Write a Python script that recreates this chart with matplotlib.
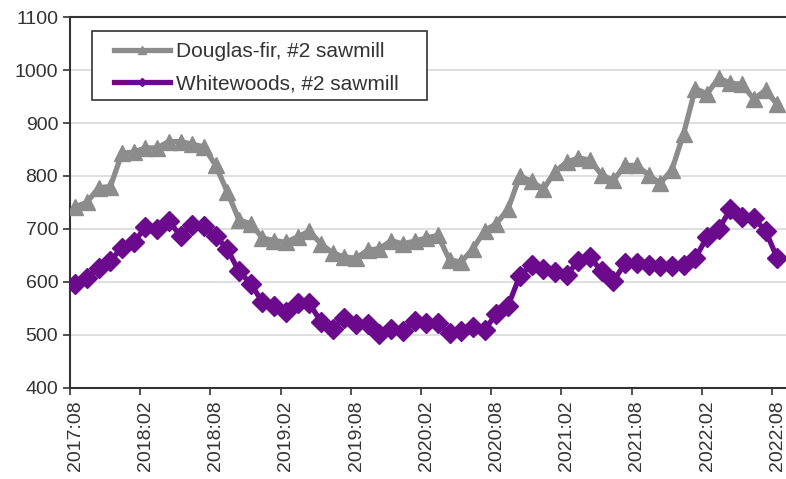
import matplotlib
matplotlib.use("Agg")
import matplotlib.pyplot as plt
from matplotlib.patches import Rectangle
import numpy as np

plt.rcParams['font.family'] = ['Liberation Sans', 'DejaVu Sans']

# monthly prices, Aug 2017 .. Aug 2022
douglas_fir = [742, 750, 778, 780, 843, 845, 853, 853, 865, 865,
               860, 855, 820, 770, 717, 710, 683, 678, 675, 685,
               696, 672, 655, 647, 645, 660, 663, 678, 672, 677,
               683, 688, 641, 638, 663, 697, 710, 738, 800, 790,
               775, 808, 826, 834, 830, 802, 792, 820, 820, 802,
               786, 812, 880, 965, 955, 985, 975, 973, 945, 962,
               935]
whitewoods = [597, 608, 627, 640, 665, 675, 703, 700, 715, 687,
              708, 705, 687, 662, 620, 597, 562, 555, 543, 560,
              560, 525, 512, 532, 520, 520, 502, 512, 507, 527,
              522, 522, 503, 508, 515, 510, 540, 555, 612, 632,
              625, 618, 613, 640, 647, 620, 602, 635, 635, 633,
              630, 630, 632, 645, 685, 700, 737, 722, 720, 697,
              645]
tick_labels = ['2017:08', '2018:02', '2018:08', '2019:02', '2019:08', '2020:02',
               '2020:08', '2021:02', '2021:08', '2022:02', '2022:08']

months = np.arange(len(douglas_fir)) + 0.45
text_col = '#333333'

fig = plt.figure(figsize=(7.86, 4.79), dpi=100)
ax = fig.add_axes([0.089, 0.19, 0.911, 0.7745])

ax.plot(months, douglas_fir, color='#8c8c8c', lw=3.8, marker='^', ms=12,
        label='Douglas-fir, #2 sawmill', zorder=3)
ax.plot(months, whitewoods, color='#6b0a8c', lw=3.8, marker='D', ms=10,
        label='Whitewoods, #2 sawmill', zorder=3)

ax.set_ylim(400, 1100)
ax.set_yticks(range(400, 1101, 100))
ax.set_xlim(0, 61.2)
tick_pos = np.arange(0, 61, 6)
# tick marks on the month boundary, date labels just right of them
ax.set_xticks(tick_pos)
ax.set_xticklabels([])
ax.set_xticks(tick_pos + 0.45, tick_labels, minor=True, rotation=90)
ax.tick_params(axis='x', which='minor', length=0, pad=9)

ax.yaxis.grid(True, color='#d9d9d9', lw=1.2)
ax.set_axisbelow(True)
for side in ['left', 'bottom', 'top']:
    ax.spines[side].set_color('#333333')
    ax.spines[side].set_linewidth(1.5)
ax.spines['right'].set_visible(False)
ax.tick_params(axis='both', which='both', direction='out', colors='#333333',
               labelcolor=text_col, labelsize=14)
ax.tick_params(axis='both', which='major', length=5, width=1.2)

# legend box drawn separately so it can be roomier than the entries
ax.add_patch(Rectangle((0.0307, 0.7763), 0.468, 0.186, transform=ax.transAxes,
                       facecolor='white', edgecolor='#333333', lw=1.2, zorder=4))
leg = ax.legend(loc='upper left', bbox_to_anchor=(0.062, 0.932), fontsize=15,
                frameon=False, markerscale=0.45, handlelength=2.65,
                borderpad=0, borderaxespad=0, labelspacing=0.62,
                handletextpad=0.3)
leg.set_zorder(5)
for t in leg.get_texts():
    t.set_color(text_col)

fig.savefig('out.png', dpi=100)
